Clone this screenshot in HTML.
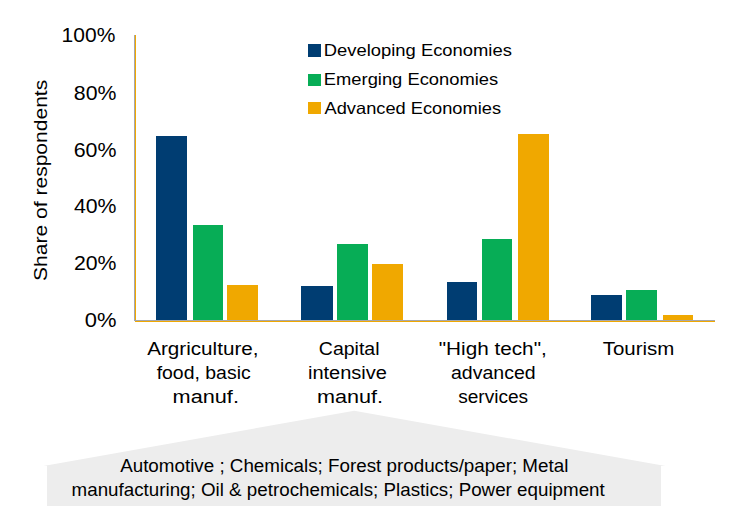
<!DOCTYPE html>
<html>
<head>
<meta charset="utf-8">
<style>
html,body{margin:0;padding:0;background:#fff;}
body{width:747px;height:523px;overflow:hidden;position:relative;}
svg{position:absolute;left:0;top:0;display:block;}
text{font-family:"Liberation Sans",sans-serif;fill:#000;}
</style>
</head>
<body>
<svg width="747" height="523" viewBox="0 0 747 523">
  <polygon points="43.5,466 354.2,410.8 665.5,466" fill="#ededed"/>
  <rect x="47" y="465.6" width="614" height="40.4" fill="#ededed"/>
  <rect x="156" y="136" width="31" height="184" fill="#003d72"/>
  <rect x="193" y="225" width="30" height="95" fill="#07ad56"/>
  <rect x="227" y="285" width="31" height="35" fill="#f0a800"/>
  <rect x="301" y="286" width="32" height="34" fill="#003d72"/>
  <rect x="337" y="244" width="31" height="76" fill="#07ad56"/>
  <rect x="372" y="264" width="31" height="56" fill="#f0a800"/>
  <rect x="447" y="282" width="30" height="38" fill="#003d72"/>
  <rect x="482" y="239" width="30" height="81" fill="#07ad56"/>
  <rect x="518" y="134" width="31" height="186" fill="#f0a800"/>
  <rect x="591" y="295" width="31" height="25" fill="#003d72"/>
  <rect x="626" y="290" width="31" height="30" fill="#07ad56"/>
  <rect x="663" y="315" width="30" height="5" fill="#f0a800"/>
  <rect x="134" y="35" width="1" height="286" fill="#a5a7ad"/>
  <rect x="135" y="35" width="1" height="286" fill="#f0a800"/>
  <rect x="134" y="320" width="581" height="1" fill="#a5a7ad"/>
  <rect x="135" y="321" width="580" height="1" fill="#f0a800"/>
  <rect x="308" y="44" width="13" height="13" fill="#003d72"/>
  <rect x="308" y="74" width="13" height="12" fill="#07ad56"/>
  <rect x="308" y="102" width="13" height="12" fill="#f0a800"/>
  <text x="61.62" y="42" font-size="19.5" textLength="53.71" lengthAdjust="spacingAndGlyphs">100%</text>
  <text x="73.89" y="100" font-size="19.5" textLength="42.63" lengthAdjust="spacingAndGlyphs">80%</text>
  <text x="73.73" y="156.5" font-size="19.5" textLength="42.80" lengthAdjust="spacingAndGlyphs">60%</text>
  <text x="73.92" y="213" font-size="19.5" textLength="42.60" lengthAdjust="spacingAndGlyphs">40%</text>
  <text x="73.94" y="270" font-size="19.5" textLength="42.59" lengthAdjust="spacingAndGlyphs">20%</text>
  <text x="84.88" y="327" font-size="19.5" textLength="31.70" lengthAdjust="spacingAndGlyphs">0%</text>
  <text x="323.78" y="56" font-size="16.5" textLength="188.08" lengthAdjust="spacingAndGlyphs">Developing Economies</text>
  <text x="323.79" y="85" font-size="16.5" textLength="174.45" lengthAdjust="spacingAndGlyphs">Emerging Economies</text>
  <text x="324.55" y="113.5" font-size="16.5" textLength="176.49" lengthAdjust="spacingAndGlyphs">Advanced Economies</text>
  <text x="147.15" y="354.7" font-size="17.5" textLength="111.43" lengthAdjust="spacingAndGlyphs">Argriculture,</text>
  <text x="156.66" y="378.7" font-size="17.5" textLength="94.01" lengthAdjust="spacingAndGlyphs">food, basic</text>
  <text x="172.59" y="402.5" font-size="17.5" textLength="66.36" lengthAdjust="spacingAndGlyphs">manuf.</text>
  <text x="318.83" y="354.7" font-size="17.5" textLength="60.70" lengthAdjust="spacingAndGlyphs">Capital</text>
  <text x="307.95" y="378.7" font-size="17.5" textLength="79.04" lengthAdjust="spacingAndGlyphs">intensive</text>
  <text x="317.00" y="402.5" font-size="17.5" textLength="66.04" lengthAdjust="spacingAndGlyphs">manuf.</text>
  <text x="438.72" y="354.7" font-size="17.5" textLength="108.05" lengthAdjust="spacingAndGlyphs">&quot;High tech&quot;,</text>
  <text x="450.97" y="378.7" font-size="17.5" textLength="84.69" lengthAdjust="spacingAndGlyphs">advanced</text>
  <text x="458.18" y="402.5" font-size="17.5" textLength="69.99" lengthAdjust="spacingAndGlyphs">services</text>
  <text x="602.74" y="354.7" font-size="17.5" textLength="71.70" lengthAdjust="spacingAndGlyphs">Tourism</text>
  <text x="120.15" y="472" font-size="18.67" textLength="448.20" lengthAdjust="spacingAndGlyphs">Automotive ; Chemicals; Forest products/paper; Metal</text>
  <text x="71.58" y="496" font-size="18.67" textLength="533.16" lengthAdjust="spacingAndGlyphs">manufacturing; Oil &amp; petrochemicals; Plastics; Power equipment</text>
  <g transform="translate(47,280) rotate(-90)"><text x="-0.95" y="0" font-size="19.2" textLength="201.18" lengthAdjust="spacingAndGlyphs">Share of respondents</text></g>
</svg>
</body>
</html>
